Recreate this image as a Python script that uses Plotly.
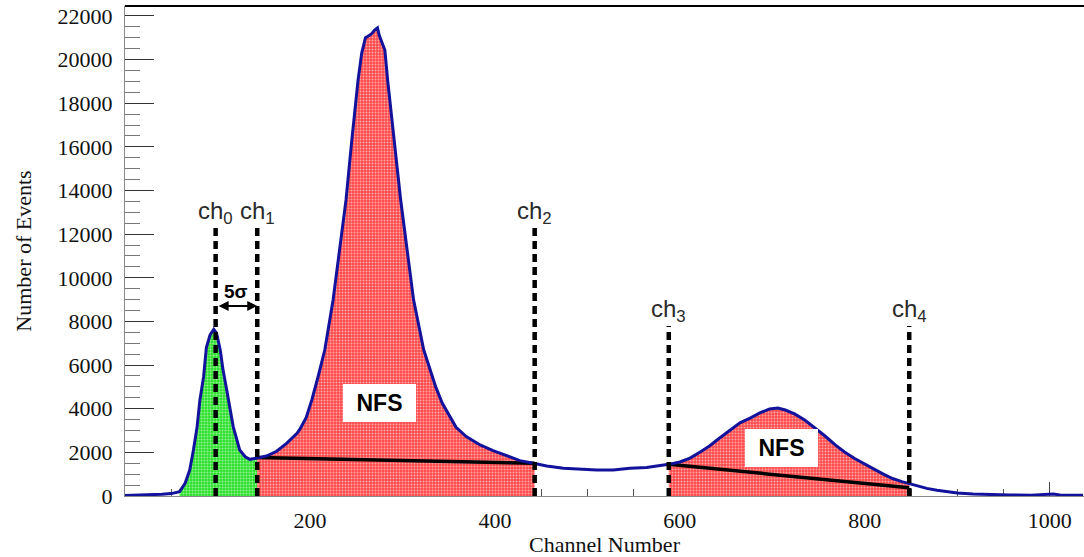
import numpy as np
import plotly.graph_objects as go

# ---------------- data ----------------
channel = [0, 10, 20, 30, 40, 50, 55, 59, 65, 70, 74, 78, 81, 85, 88, 92, 96, 99,
           103, 106, 110, 114, 117, 121, 124, 130, 135, 143, 153, 164, 175, 186,
           189, 196, 202, 209, 216, 225, 232, 239, 245, 252, 256, 260, 264, 267,
           270, 273, 275, 281, 284, 292, 298, 305, 312, 323, 330, 336, 343, 351,
           358, 369, 384, 398, 413, 427, 443, 456, 474, 492, 510, 528, 546, 564,
           582, 588, 600, 611, 622, 632, 643, 654, 665, 676, 686, 697, 706, 714,
           724, 735, 746, 757, 768, 778, 789, 800, 810, 820, 830, 840, 848, 857,
           867, 878, 888, 900, 917, 935, 957, 980, 1000, 1004, 1011, 1036]
counts = [20, 30, 50, 60, 80, 110, 150, 200, 580, 1190, 2110, 3180, 4400, 5470,
          6800, 7380, 7640, 7460, 6690, 5780, 4860, 3940, 3180, 2570, 2110, 1800,
          1680, 1740, 1830, 2050, 2420, 2870, 3050, 3600, 4400, 5500, 6690, 8980,
          11270, 13570, 16200, 19060, 20300, 21000, 21100, 21200, 21350, 21450,
          21100, 20440, 19060, 16000, 13600, 11300, 9000, 6700, 5780, 5000, 4260,
          3700, 3150, 2720, 2340, 2080, 1830, 1620, 1490, 1375, 1270, 1220, 1190,
          1190, 1270, 1310, 1420, 1450, 1560, 1740, 2020, 2290, 2660, 3020, 3350,
          3570, 3800, 3990, 4030, 3940, 3760, 3480, 3120, 2750, 2340, 2020, 1720,
          1450, 1230, 1000, 800, 660, 560, 470, 350, 260, 200, 140, 90, 60, 45,
          40, 60, 90, 45, 40]

pedestal_start = 59                       # first channel of the green pedestal
ch_names = ["ch<sub>0</sub>", "ch<sub>1</sub>", "ch<sub>2</sub>",
            "ch<sub>3</sub>", "ch<sub>4</sub>"]
ch_values = [98, 143, 443, 588, 848]
ch_line_tops = [12280, 12280, 12280, 7790, 7790]

baseline_start = [1760, 1450]             # linear background under NFS peaks
baseline_end = [1500, 380]

sigma_label = "<b>5σ</b>"
sigma_text_y = 9350
sigma_arrow_y = 8710

nfs_x = [275, 710]
nfs_y = [4240, 2200]

x_ticks = [200, 400, 600, 800, 1000]

# ---------------- figure ----------------
ch = np.array(channel)
cnt = np.array(counts)

blue = "#12129c"
red_bg = "#ff4a4a"
green_bg = "#2ee02e"

fig = go.Figure()

def fill_segment(lo, hi, bg):
    m = (ch >= lo) & (ch <= hi)
    fig.add_trace(go.Scatter(
        x=ch[m], y=cnt[m], mode="none", fill="tozeroy",
        fillcolor=bg,
        fillpattern=dict(shape=".", bgcolor=bg, fgcolor="white",
                         size=3, solidity=0.35),
        hoverinfo="skip", showlegend=False))

fill_segment(pedestal_start, ch_values[1], green_bg)
fill_segment(ch_values[1], ch_values[2], red_bg)
fill_segment(ch_values[3], ch_values[4], red_bg)

# background lines
fig.add_trace(go.Scatter(x=[ch_values[1], ch_values[2]],
                         y=[baseline_start[0], baseline_end[0]],
                         mode="lines", line=dict(color="black", width=3.5),
                         showlegend=False, hoverinfo="skip"))
fig.add_trace(go.Scatter(x=[ch_values[3], ch_values[4]],
                         y=[baseline_start[1], baseline_end[1]],
                         mode="lines", line=dict(color="black", width=3.5),
                         showlegend=False, hoverinfo="skip"))

# spectrum
fig.add_trace(go.Scatter(x=ch, y=cnt, mode="lines",
                         line=dict(color=blue, width=3),
                         showlegend=False))

# dashed channel markers
for v, top in zip(ch_values, ch_line_tops):
    fig.add_trace(go.Scatter(x=[v, v], y=[0, top], mode="lines",
                             line=dict(color="black", width=4.5, dash="8px,5px"),
                             showlegend=False, hoverinfo="skip"))

annotations = []
for name, v, top in zip(ch_names, ch_values, ch_line_tops):
    annotations.append(dict(x=v, y=top, text=name, showarrow=False,
                            xanchor="center", yanchor="bottom", yshift=-2,
                            font=dict(family="Liberation Sans", size=24,
                                      color="#2a2a2a")))

annotations.append(dict(x=(ch_values[0] + ch_values[1]) / 2, y=sigma_text_y,
                        text=sigma_label, showarrow=False,
                        font=dict(family="Liberation Sans", size=19,
                                  color="black")))
annotations.append(dict(x=ch_values[1], y=sigma_arrow_y, ax=ch_values[0],
                        ay=sigma_arrow_y, axref="x", ayref="y", text=" ",
                        showarrow=True, arrowhead=2, arrowside="end+start",
                        arrowsize=1, arrowwidth=2, arrowcolor="black",
                        standoff=0, startstandoff=0))
for xv, yv in zip(nfs_x, nfs_y):
    annotations.append(dict(x=xv, y=yv, text="<b>NFS</b>", showarrow=False,
                            bgcolor="white", width=73, height=38,
                            borderpad=0, borderwidth=0,
                            font=dict(family="Liberation Sans", size=23,
                                      color="black")))

serif = "Liberation Serif"
fig.update_layout(
    width=1084, height=557,
    margin=dict(l=125, r=0, t=6, b=61),
    paper_bgcolor="white", plot_bgcolor="white",
    annotations=annotations,
    shapes=[dict(type="line", xref="paper", yref="paper", x0=0, x1=1,
                 y0=1, y1=1, line=dict(color="black", width=2))],
    xaxis=dict(range=[0, 1037], tickmode="array", tickvals=x_ticks,
               ticktext=[str(t) for t in x_ticks],
               ticks="inside", ticklen=14, tickcolor="#444", tickwidth=1,
               minor=dict(tickmode="linear", tick0=0, dtick=50,
                          ticks="inside", ticklen=7, tickcolor="#555"),
               showline=True, linecolor="#888", linewidth=1,
               showgrid=False, zeroline=False, layer="below traces",
               tickfont=dict(family=serif, size=22, color="#111"),
               ticklabelstandoff=5,
               title=dict(text="Channel Number", standoff=0,
                          font=dict(family=serif, size=22, color="#111")),
               automargin=False),
    yaxis=dict(range=[0, 22457], tickmode="linear", tick0=0, dtick=2000,
               tickformat="d",
               ticks="inside", ticklen=29, tickcolor="#333", tickwidth=1,
               minor=dict(tickmode="linear", tick0=0, dtick=500,
                          ticks="inside", ticklen=15, tickcolor="#777"),
               showline=True, linecolor="#888", linewidth=1,
               showgrid=False, zeroline=False, layer="below traces",
               tickfont=dict(family=serif, size=22, color="#111"),
               ticklabelstandoff=7,
               title=dict(text="Number of Events", standoff=19,
                          font=dict(family=serif, size=22, color="#111")),
               automargin=False),
)

fig.write_html("out.html")
